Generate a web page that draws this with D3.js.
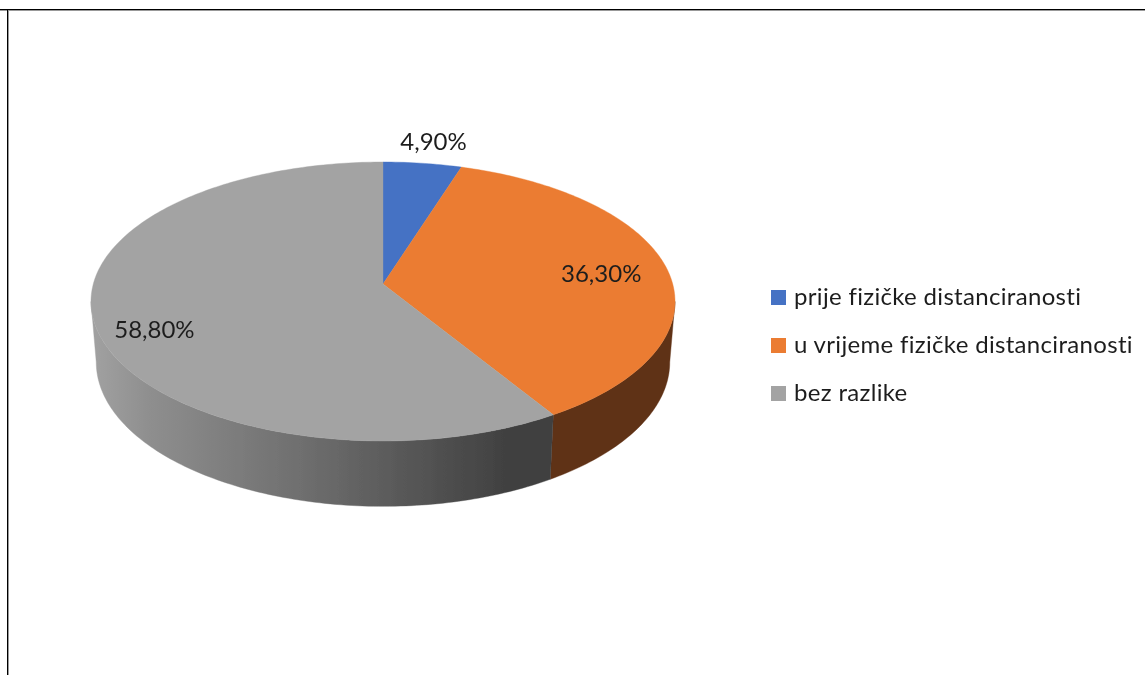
<!DOCTYPE html>
<html><head><meta charset="utf-8">
<script src="https://cdn.jsdelivr.net/npm/d3@7"></script>
<style>html,body{margin:0;padding:0;background:#fff}svg{display:block}text{font-family:Lato,"Open Sans",sans-serif;fill:#1f1f1f}</style>
</head><body><div id="c"></div>
<script>
const categories = ["prije fizičke distanciranosti","u vrijeme fizičke distanciranosti","bez razlike"];
const values = [4.9, 36.3, 58.8];
const labels = ["4,90%","36,30%","58,80%"];
const topColors = ["#4472c4","#eb7c30","#a3a3a3"];

const W=1145,H=675;
const svg=d3.select("#c").append("svg").attr("width",W).attr("height",H);
// perspective projection of a disc onto the screen
const cx=383, topY=284, botY=344, k=-0.1254, a=289.7, b=137.3, botA=284.5, botB=142;
function proj(t,level){
  const u=Math.sin(t), v=-Math.cos(t), d=1+k*v;
  return level===0 ? [cx+a*u/d, topY+b*v/d] : [cx+botA*u/d, botY+botB*v/d];
}
const pie=d3.pie().sort(null).value(d=>d);
const arcs=pie(values);
const line=d3.line();
const sample=(t0,t1,level)=>{const n=Math.max(2,Math.ceil(Math.abs(t1-t0)*60));return d3.range(n+1).map(i=>proj(t0+(t1-t0)*i/n,level));};
const silR=Math.acos(k), silL=2*Math.PI-silR;

const defs=svg.append("defs");
defs.append("filter").attr("id","soft").attr("x",0).attr("y",0).attr("width",1).attr("height",1)
  .attr("filterUnits","objectBoundingBox")
  .append("feGaussianBlur").attr("stdDeviation",0.45);
const g=defs.append("linearGradient").attr("id","wall").attr("gradientUnits","userSpaceOnUse")
  .attr("x1",proj(silL,1)[0]).attr("x2",proj(arcs[1].endAngle,1)[0]).attr("y1",0).attr("y2",0);
[[0,"#a0a0a0"],[0.12,"#8e8e8e"],[0.5,"#6a6a6a"],[0.9,"#414141"],[1,"#404040"]].forEach(s=>g.append("stop").attr("offset",s[0]).attr("stop-color",s[1]));

// frame
const frame=svg.append("g").attr("shape-rendering","crispEdges");
frame.append("line").attr("x1",0).attr("x2",W).attr("y1",10.5).attr("y2",10.5).attr("stroke","#999");
frame.append("line").attr("x1",8.5).attr("x2",8.5).attr("y1",10).attr("y2",H).attr("stroke","#999");
frame.append("line").attr("x1",0).attr("x2",W).attr("y1",9.5).attr("y2",9.5).attr("stroke","#000");
frame.append("line").attr("x1",7.5).attr("x2",7.5).attr("y1",9).attr("y2",H).attr("stroke","#000");

const chart=svg.append("g").attr("filter","url(#soft)");
chart.append("rect").attr("x",12).attr("y",14).attr("width",W-12).attr("height",H-14).attr("fill","#fff");

// side walls
const wallSpans=[
  {fill:"#5f3013",t0:silR,t1:arcs[1].endAngle},
  {fill:"url(#wall)",t0:arcs[1].endAngle,t1:silL}
];
chart.append("g").selectAll("path").data(wallSpans).join("path")
  .attr("fill",d=>d.fill).attr("stroke",d=>d.fill).attr("stroke-width",0.4)
  .attr("d",d=>line(sample(d.t0,d.t1,0).concat(sample(d.t1,d.t0,1)))+"Z");

// top face
chart.append("g").selectAll("path").data(arcs).join("path")
  .attr("fill",(d,i)=>topColors[i]).attr("stroke",(d,i)=>topColors[i]).attr("stroke-width",0.4)
  .attr("d",d=>line([[cx,topY]].concat(sample(d.startAngle,d.endAngle,0)))+"Z");

// data labels
const labelOffset=[[11,-22],[-65,6],[60,7]];
chart.append("g").selectAll("text").data(arcs).join("text")
  .attr("text-anchor","middle").attr("font-size",24).attr("dy","0.35em")
  .attr("x",(d,i)=>proj((d.startAngle+d.endAngle)/2,0)[0]+labelOffset[i][0])
  .attr("y",(d,i)=>proj((d.startAngle+d.endAngle)/2,0)[1]+labelOffset[i][1])
  .text((d,i)=>labels[i]);

// legend
const legY=d3.scalePoint().domain(categories).range([297.5,393.5]);
const leg=chart.append("g").selectAll("g").data(categories).join("g").attr("transform",d=>`translate(771,${legY(d)})`);
leg.append("rect").attr("x",0).attr("y",-7.5).attr("width",15).attr("height",15).attr("fill",(d,i)=>topColors[i]);
leg.append("text").attr("x",23).attr("y",7.5).attr("font-size",24).attr("letter-spacing",0.32).text(d=>d);
</script></body></html>
